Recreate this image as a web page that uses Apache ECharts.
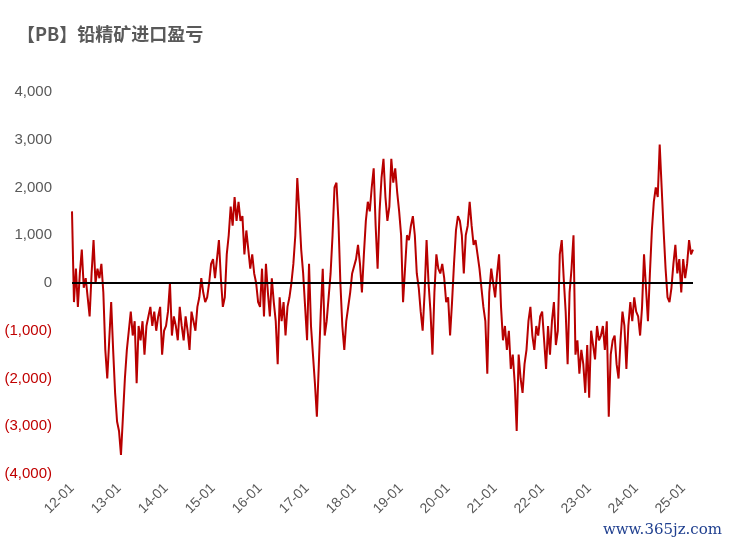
<!DOCTYPE html>
<html><head><meta charset="utf-8">
<script src="https://cdn.jsdelivr.net/npm/echarts@6/dist/echarts.min.js"></script>
<style>html,body{margin:0;padding:0;background:#fff}#c{width:730px;height:548px}</style>
</head><body><div id="c"></div>
<script>
const years = [2012,2013,2014,2015,2016,2017,2018,2019,2020,2021,2022,2023,2024,2025];
const v2012 = [1500,-400,300,-500,200,700,-100,100,-300,-700,200,900,0,300,100,400,-200,-1400,-2000,-1200,-400,-1400,-2300,-2900];
const v2013 = [-3100,-3600,-2800,-2000,-1400,-1000,-600,-1100,-800,-2100,-900,-1200,-800,-1500,-900,-700,-500,-900,-600,-1000,-700,-500,-1500,-1000];
const v2014 = [-900,-600,0,-1100,-700,-900,-1200,-500,-900,-1200,-700,-1000,-1400,-600,-800,-1000,-500,-300,100,-200,-400,-300,0,400];
const v2015 = [500,100,500,900,100,-500,-300,600,1000,1600,1200,1800,1300,1700,1300,1400,600,1100,700,300,600,200,0,-400];
const v2016 = [-500,300,-700,400,-200,-700,100,-400,-800,-1700,-300,-800,-400,-1100,-500,-300,0,400,1000,2200,1500,700,200,-500];
const v2017 = [-1200,400,-900,-1500,-2100,-2800,-1700,-600,300,-1100,-800,-300,200,1000,2000,2100,1300,0,-900,-1400,-800,-500,-200,200];
const v2018 = [200,500,800,400,-200,600,1300,1700,1500,2000,2400,1200,300,1500,2200,2600,1800,1300,1600,2600,2100,2400,1900,1500];
const v2019 = [1000,-400,300,1000,900,1200,1400,1000,200,-100,-600,-1000,-200,900,0,-600,-1500,-200,600,300,200,400,100,-400];
const v2020 = [-300,-1100,-400,400,1100,1400,1300,1000,200,1000,1200,1700,1200,800,900,600,300,-100,-500,-800,-1900,-200,300,0];
const v2021 = [-300,200,600,-500,-1200,-900,-1400,-1000,-1800,-1500,-2100,-3100,-1500,-2000,-2300,-1700,-1400,-800,-500,-1100,-1400,-900,-1100,-700];
const v2022 = [-600,-1200,-1800,-900,-1500,-800,-400,-1300,-1000,600,900,100,-600,-1700,-200,300,1000,-1500,-1200,-1900,-1400,-1700,-2300,-1300];
const v2023 = [-2400,-1000,-1300,-1600,-900,-1200,-1100,-900,-1400,-800,-2800,-1500,-1200,-1100,-1700,-2000,-1200,-600,-900,-1800,-900,-400,-800,-300];
const v2024 = [-600,-700,-1100,-500,600,-100,-800,200,1100,1700,2000,1800,2900,2000,1100,300,-300,-400,-100,400,800,200,500,-200];
const v2025 = [500,100,400,900,600,700];
const yTicks = [-4000,-3000,-2000,-1000,0,1000,2000,3000,4000];

const perYear = [v2012,v2013,v2014,v2015,v2016,v2017,v2018,v2019,v2020,v2021,v2022,v2023,v2024,v2025];
const cats = [], vals = [];
perYear.forEach((arr,i)=>{
  arr.forEach((v,j)=>{
    const m = Math.floor(j/2)+1;
    cats.push(String(years[i]%100)+'-'+String(m).padStart(2,'0')+(j%2?'b':'a'));
    vals.push(v);
  });
});
const fmt = v => {
  const s = Math.abs(v).toLocaleString('en-US');
  return v < 0 ? '(' + s + ')' : s;
};
const chart = echarts.init(document.getElementById('c'));
chart.setOption({
  animation:false,
  title:{text:'【PB】铅精矿进口盈亏',left:12,top:20,textStyle:{fontSize:18,fontWeight:'bold',color:'#595959',fontFamily:'Noto Sans CJK SC'}},
  grid:{left:72,right:37,top:92,height:382},
  xAxis:{type:'category',data:cats,boundaryGap:false,
    axisLine:{show:false},axisTick:{show:false},
    axisLabel:{interval:(i)=>i%24===0,rotate:45,color:'#595959',fontSize:14,margin:12,
      formatter:v=>v.slice(0,2)+'-01',fontFamily:'Liberation Sans'},
    splitLine:{show:false}},
  yAxis:{type:'value',min:yTicks[0],max:yTicks[yTicks.length-1],interval:1000,
    axisLine:{show:false},axisTick:{show:false},splitLine:{show:false},
    axisLabel:{formatter:fmt,fontSize:15,margin:20,fontFamily:'Liberation Sans',
      color:(v)=>Number(v)<0?'#c00000':'#595959'}},
  series:[{type:'line',data:vals,showSymbol:false,lineStyle:{color:'#b80000',width:2},
    markLine:{silent:true,symbol:'none',label:{show:false},lineStyle:{color:'#000',width:2,type:'solid'},data:[{yAxis:0}]}}],
  graphic:[{type:'text',right:8,bottom:10,style:{text:'www.365jz.com',fill:'#1f3f8f',fontSize:15,fontFamily:'DejaVu Serif'}}]
});
</script></body></html>
